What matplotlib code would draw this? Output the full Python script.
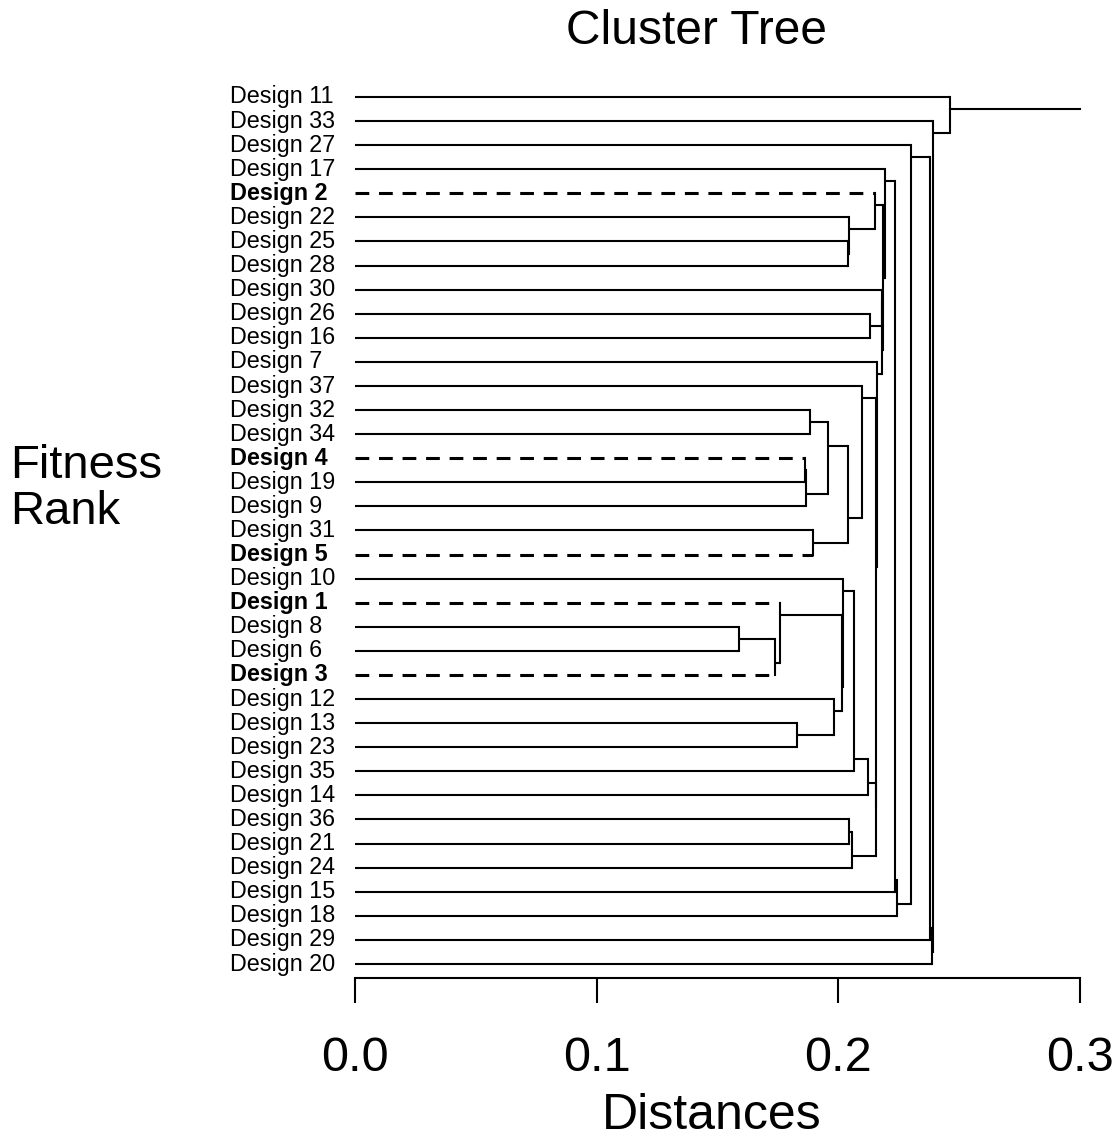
import matplotlib
matplotlib.use('Agg')
import matplotlib.pyplot as plt

plt.rcParams['font.family'] = ['Liberation Sans', 'DejaVu Sans']

# Leaf order (top to bottom)
leaves = ["Design 11", "Design 33", "Design 27", "Design 17", "Design 2", "Design 22",
          "Design 25", "Design 28", "Design 30", "Design 26", "Design 16", "Design 7",
          "Design 37", "Design 32", "Design 34", "Design 4", "Design 19", "Design 9",
          "Design 31", "Design 5", "Design 10", "Design 1", "Design 8", "Design 6",
          "Design 3", "Design 12", "Design 13", "Design 23", "Design 35", "Design 14",
          "Design 36", "Design 21", "Design 24", "Design 15", "Design 18", "Design 29",
          "Design 20"]
highlighted = ["Design 2", "Design 4", "Design 5", "Design 1", "Design 3"]

# Merges (N1..N36 in order): first child, second child, joining distance
merge_a = ["Design 25", "Design 22", "Design 2", "Design 26", "Design 30", "Design 32",
           "Design 4", "N7", "N6", "Design 31", "N9", "Design 37", "Design 8", "N13",
           "Design 1", "Design 13", "Design 12", "N15", "Design 10", "N19", "N20",
           "Design 36", "N22", "N21", "N12", "Design 7", "N5", "N3", "Design 17", "N29",
           "N30", "Design 27", "N32", "N33", "Design 33", "Design 11"]
merge_b = ["Design 28", "N1", "N2", "Design 16", "N4", "Design 34", "Design 19",
           "Design 9", "N8", "Design 5", "N10", "N11", "Design 6", "Design 3", "N14",
           "Design 23", "N16", "N17", "N18", "Design 35", "Design 14", "Design 21",
           "Design 24", "N23", "N24", "N25", "N26", "N27", "N28", "Design 15",
           "Design 18", "N31", "Design 29", "Design 20", "N34", "N35"]
merge_h = [0.2040, 0.2044, 0.2152, 0.2131, 0.2179, 0.1883, 0.1864, 0.1868, 0.1959,
           0.1895, 0.2041, 0.2099, 0.1589, 0.1738, 0.1759, 0.1830, 0.1984, 0.2014,
           0.2021, 0.2063, 0.2124, 0.2044, 0.2055, 0.2154, 0.2157, 0.2159, 0.2180,
           0.2186, 0.2193, 0.2234, 0.2241, 0.2299, 0.2379, 0.2389, 0.2393, 0.2462]

x_ticks = [0.0, 0.1, 0.2, 0.3]
x_ticklabels = ["0.0", "0.1", "0.2", "0.3"]

W, H = 1119, 1143
fig = plt.figure(figsize=(W / 100, H / 100), dpi=100)

# axes placement in pixels
ax_left, ax_right = 355, 1080
ax_top, ax_bottom = 85, 978
ax = fig.add_axes([ax_left / W, 1 - ax_bottom / H, (ax_right - ax_left) / W,
                   (ax_bottom - ax_top) / H])
leaf_top_px, leaf_bot_px = 97, 964
px_per_unit = (leaf_bot_px - leaf_top_px) / (len(leaves) - 1)
ax.set_xlim(0, 0.3)
ax.set_ylim((len(leaves) - 1) + (ax_bottom - leaf_bot_px) / px_per_unit,
            -(leaf_top_px - ax_top) / px_per_unit)

# positions
info = {}
for i, name in enumerate(leaves):
    info[name] = dict(y=float(i), x=0.0, lo=i, hi=i)

LW = 1.5
for k, (a, b, h) in enumerate(zip(merge_a, merge_b, merge_h)):
    ia, ib = info[a], info[b]
    upper, lower = (ia, ib) if ia['hi'] < ib['lo'] else (ib, ia)
    ynode = (upper['hi'] + lower['lo']) / 2.0
    for cname in (a, b):
        c = info[cname]
        if cname in highlighted:
            ax.plot([c['x'], h], [c['y'], c['y']], color='black', lw=2.2,
                    dashes=(4.5, 3.2), solid_capstyle='butt', dash_capstyle='butt')
        else:
            ax.plot([c['x'], h], [c['y'], c['y']], color='black', lw=LW,
                    solid_capstyle='butt')
    ax.plot([h, h], [ia['y'], ib['y']], color='black', lw=LW, solid_capstyle='projecting')
    info["N%d" % (k + 1)] = dict(y=ynode, x=h, lo=min(ia['lo'], ib['lo']),
                                 hi=max(ia['hi'], ib['hi']))

root = info["N%d" % len(merge_h)]
ax.plot([root['x'], 0.3], [root['y'], root['y']], color='black', lw=LW, clip_on=False)

# leaf labels
for i, name in enumerate(leaves):
    bold = name in highlighted
    fig.text(230 / W, 1 - (leaf_top_px + i * px_per_unit) / H, name,
             fontsize=16.8, fontweight='bold' if bold else 'normal',
             ha='left', va='center')

for s in ['top', 'right', 'left']:
    ax.spines[s].set_visible(False)
ax.spines['bottom'].set_linewidth(1.5)
ax.set_yticks([])
ax.set_xticks(x_ticks)
ax.set_xticklabels(x_ticklabels)
ax.tick_params(axis='x', direction='out', length=18, width=1.5, pad=24, labelsize=35)

fig.text(697 / W, 1 - 32 / H, "Cluster Tree", fontsize=34.5, ha='center', va='center')
fig.text(712 / W, 1 - 1116 / H, "Distances", fontsize=36, ha='center', va='center')
fig.text(10 / W, 1 - 489 / H, "Fitness\nRank", fontsize=34, ha='left', va='center',
         linespacing=1.08)

fig.savefig('out.png', dpi=100, facecolor='white')
